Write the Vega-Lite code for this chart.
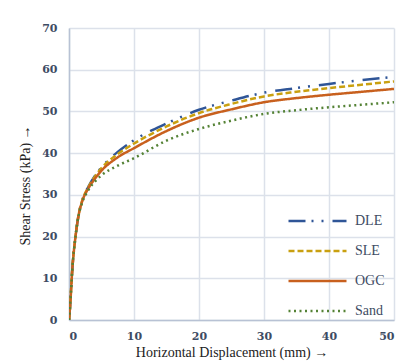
{
  "$schema": "https://vega.github.io/schema/vega-lite/v6.json",
  "width": 325,
  "height": 292,
  "autosize": {"type": "none"},
  "padding": {"left": 69, "top": 28, "right": 13, "bottom": 44},
  "background": "white",
  "datasets": {
    "curves": [
      {"x": 0, "y": 0, "s": "DLE"}, {"x": 0.2, "y": 4, "s": "DLE"}, {"x": 0.5, "y": 12, "s": "DLE"}, {"x": 1, "y": 20, "s": "DLE"}, {"x": 1.5, "y": 25.4, "s": "DLE"}, {"x": 2, "y": 28.5, "s": "DLE"}, {"x": 3, "y": 32.0, "s": "DLE"}, {"x": 4, "y": 34.6, "s": "DLE"}, {"x": 5, "y": 36.6, "s": "DLE"}, {"x": 7.5, "y": 40.3, "s": "DLE"}, {"x": 10, "y": 43.1, "s": "DLE"}, {"x": 15, "y": 47.1, "s": "DLE"}, {"x": 20, "y": 50.4, "s": "DLE"}, {"x": 25, "y": 52.6, "s": "DLE"}, {"x": 30, "y": 54.5, "s": "DLE"}, {"x": 35, "y": 55.6, "s": "DLE"}, {"x": 40, "y": 56.6, "s": "DLE"}, {"x": 45, "y": 57.5, "s": "DLE"}, {"x": 50, "y": 58.3, "s": "DLE"},
      {"x": 0, "y": 0, "s": "SLE"}, {"x": 0.2, "y": 4, "s": "SLE"}, {"x": 0.5, "y": 12, "s": "SLE"}, {"x": 1, "y": 20, "s": "SLE"}, {"x": 1.5, "y": 25.4, "s": "SLE"}, {"x": 2, "y": 28.5, "s": "SLE"}, {"x": 3, "y": 31.9, "s": "SLE"}, {"x": 4, "y": 34.4, "s": "SLE"}, {"x": 5, "y": 36.4, "s": "SLE"}, {"x": 7.5, "y": 39.8, "s": "SLE"}, {"x": 10, "y": 42.3, "s": "SLE"}, {"x": 15, "y": 46.4, "s": "SLE"}, {"x": 20, "y": 49.6, "s": "SLE"}, {"x": 25, "y": 51.8, "s": "SLE"}, {"x": 30, "y": 53.6, "s": "SLE"}, {"x": 35, "y": 54.7, "s": "SLE"}, {"x": 40, "y": 55.6, "s": "SLE"}, {"x": 45, "y": 56.4, "s": "SLE"}, {"x": 50, "y": 57.2, "s": "SLE"},
      {"x": 0, "y": 0, "s": "OGC"}, {"x": 0.2, "y": 4, "s": "OGC"}, {"x": 0.5, "y": 12, "s": "OGC"}, {"x": 1, "y": 20, "s": "OGC"}, {"x": 1.5, "y": 25.3, "s": "OGC"}, {"x": 2, "y": 28.3, "s": "OGC"}, {"x": 3, "y": 31.6, "s": "OGC"}, {"x": 4, "y": 33.9, "s": "OGC"}, {"x": 5, "y": 35.8, "s": "OGC"}, {"x": 7.5, "y": 39.0, "s": "OGC"}, {"x": 10, "y": 41.2, "s": "OGC"}, {"x": 15, "y": 45.3, "s": "OGC"}, {"x": 20, "y": 48.5, "s": "OGC"}, {"x": 25, "y": 50.5, "s": "OGC"}, {"x": 30, "y": 52.2, "s": "OGC"}, {"x": 35, "y": 53.2, "s": "OGC"}, {"x": 40, "y": 54.0, "s": "OGC"}, {"x": 45, "y": 54.7, "s": "OGC"}, {"x": 50, "y": 55.4, "s": "OGC"},
      {"x": 0, "y": 0, "s": "Sand"}, {"x": 0.2, "y": 4, "s": "Sand"}, {"x": 0.5, "y": 12, "s": "Sand"}, {"x": 1, "y": 20, "s": "Sand"}, {"x": 1.5, "y": 25.2, "s": "Sand"}, {"x": 2, "y": 28.0, "s": "Sand"}, {"x": 3, "y": 31.2, "s": "Sand"}, {"x": 4, "y": 33.2, "s": "Sand"}, {"x": 5, "y": 34.7, "s": "Sand"}, {"x": 7.5, "y": 37.0, "s": "Sand"}, {"x": 10, "y": 38.8, "s": "Sand"}, {"x": 15, "y": 43.0, "s": "Sand"}, {"x": 20, "y": 45.8, "s": "Sand"}, {"x": 25, "y": 47.8, "s": "Sand"}, {"x": 30, "y": 49.4, "s": "Sand"}, {"x": 35, "y": 50.3, "s": "Sand"}, {"x": 40, "y": 51.0, "s": "Sand"}, {"x": 45, "y": 51.6, "s": "Sand"}, {"x": 50, "y": 52.2, "s": "Sand"}
    ]
  },
  "data": {"name": "curves"},
  "mark": {"type": "line", "interpolate": "monotone", "strokeWidth": 2.5, "clip": true},
  "encoding": {
    "x": {
      "field": "x", "type": "quantitative",
      "scale": {"domain": [0, 50], "nice": false, "zero": false},
      "axis": {
        "values": [0, 10, 20, 30, 40, 50],
        "title": "Horizontal Displacement (mm) →",
        "titlePadding": 4,
        "labelPadding": 10,
        "labelFont": "DejaVu Serif", "labelFontSize": 11, "labelFontWeight": "bold", "labelColor": "#3E4B63"
      }
    },
    "y": {
      "field": "y", "type": "quantitative",
      "scale": {"domain": [0, 70], "nice": false},
      "axis": {
        "values": [0, 10, 20, 30, 40, 50, 60, 70],
        "title": "Shear Stress (kPa) →",
        "titleAngle": 270, "titleX": -44, "titleY": 157, "titleAlign": "center", "titleBaseline": "middle",
        "labelPadding": 12,
        "labelFont": "DejaVu Serif", "labelFontSize": 11, "labelFontWeight": "bold", "labelColor": "#3E4B63"
      }
    },
    "color": {
      "field": "s", "type": "nominal",
      "scale": {"domain": ["DLE", "SLE", "OGC", "Sand"], "range": ["#2F5597", "#C9A010", "#C8601E", "#548235"]},
      "legend": {"orient": "none", "legendX": 218, "legendY": 185}
    },
    "strokeDash": {
      "field": "s", "type": "nominal",
      "scale": {"domain": ["DLE", "SLE", "OGC", "Sand"], "range": [[17, 6, 2, 8, 2, 9], [6, 3], [1, 0], [2, 3.5]]},
      "legend": {"orient": "none", "legendX": 218, "legendY": 185}
    }
  },
  "config": {
    "view": {"stroke": null},
    "axis": {
      "titleFont": "Liberation Serif", "titleFontSize": 14, "titleFontWeight": "normal", "titleColor": "#222222",
      "ticks": false,
      "domainColor": "#B8C2D4", "domainWidth": 1.5,
      "gridColor": "#DCE1EA", "gridWidth": 1.5
    },
    "legend": {
      "title": null, "padding": 0,
      "symbolType": "stroke", "symbolSize": 3364, "symbolStrokeWidth": 2.5,
      "labelFont": "Liberation Serif", "labelFontSize": 14, "labelColor": "#3E4B63",
      "labelOffset": 7, "rowPadding": 14, "clipHeight": 16
    }
  }
}
